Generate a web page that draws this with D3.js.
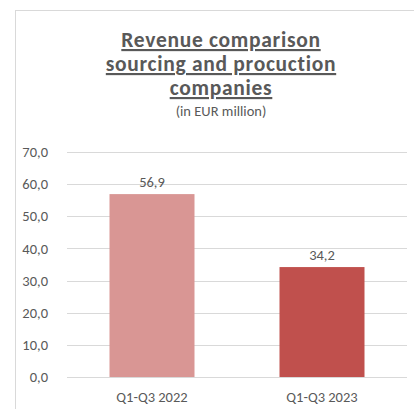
<!DOCTYPE html>
<html><head><meta charset="utf-8">
<script src="https://cdn.jsdelivr.net/npm/d3@7"></script>
<style>body{margin:0;background:#fff}svg{display:block}</style>
</head><body>
<svg id="c" width="414" height="409"></svg>
<script>
const categories = ["Q1-Q3 2022", "Q1-Q3 2023"];
const values = [56.9, 34.2];
const barColors = ["#D99694", "#C0504D"];
const yTicks = [0, 10, 20, 30, 40, 50, 60, 70];
const titleLines = ["Revenue comparison", "sourcing and procuction", "companies"];
const subtitle = "(in EUR million)";

(function () {
const svg = d3.select("#c");
const font = "Carlito, Calibri, Lato, 'Open Sans', sans-serif";
const txt = "#595959";
const fs = "14.5px";

// chart border
svg.append("rect").attr("x", 15.5).attr("y", 10.5).attr("width", 420).attr("height", 420)
  .attr("fill", "none").attr("stroke", "#d9d9d9").attr("stroke-width", 1);

const pLeft = 67, pRight = 407, pTop = 152, pBottom = 377;
const x = d3.scaleBand().domain(categories).range([pLeft, pRight]).paddingInner(0.5).paddingOuter(0.25);
const y = d3.scaleLinear().domain([0, 70]).range([pBottom, pTop]);

// gridlines
svg.append("g").selectAll("line").data(yTicks).join("line")
  .attr("x1", pLeft).attr("x2", pRight)
  .attr("y1", d => Math.round(y(d)) + 0.5).attr("y2", d => Math.round(y(d)) + 0.5)
  .attr("stroke", "#d9d9d9").attr("stroke-width", 1);

// y axis
const yAxis = d3.axisLeft(y).tickValues(yTicks).tickSize(0).tickPadding(0)
  .tickFormat(d => d3.format(".1f")(d).replace(".", ","));
const ga = svg.append("g").attr("transform", `translate(48,0)`).call(yAxis);
ga.select(".domain").remove();
ga.selectAll("text").attr("fill", txt).style("font-family", font).style("font-size", fs);

// bars
svg.append("g").selectAll("rect").data(values).join("rect")
  .attr("x", (d, i) => x(categories[i]))
  .attr("width", x.bandwidth())
  .attr("y", d => y(d))
  .attr("height", d => y(0) - y(d))
  .attr("fill", (d, i) => barColors[i]);

// value labels
svg.append("g").selectAll("text").data(values).join("text")
  .attr("x", (d, i) => x(categories[i]) + x.bandwidth() / 2)
  .attr("y", d => y(d) - 7)
  .attr("text-anchor", "middle").attr("fill", txt)
  .style("font-family", font).style("font-size", fs)
  .text(d => d3.format(".1f")(d).replace(".", ","));

// x axis
const xAxis = d3.axisBottom(x).tickSize(0).tickPadding(0);
const gx = svg.append("g").attr("transform", `translate(0,${pBottom})`).call(xAxis);
gx.select(".domain").remove();
gx.selectAll("text").attr("dy", null).attr("y", 25).attr("fill", txt)
  .style("font-family", font).style("font-size", fs);

// title
const tcx = 221;
svg.append("g").selectAll("text").data(titleLines).join("text")
  .attr("x", tcx).attr("y", (d, i) => 47 + i * 24)
  .attr("text-anchor", "middle").attr("fill", txt)
  .style("font-family", font).style("font-size", "21.5px").style("font-weight", "bold")
  .style("letter-spacing", "0.7px")
  .style("text-decoration", "underline")
  .text(d => d);
svg.append("text").attr("x", tcx).attr("y", 116).attr("text-anchor", "middle")
  .attr("fill", txt).style("font-family", font).style("font-size", fs).text(subtitle);
})();
</script>
</body></html>
